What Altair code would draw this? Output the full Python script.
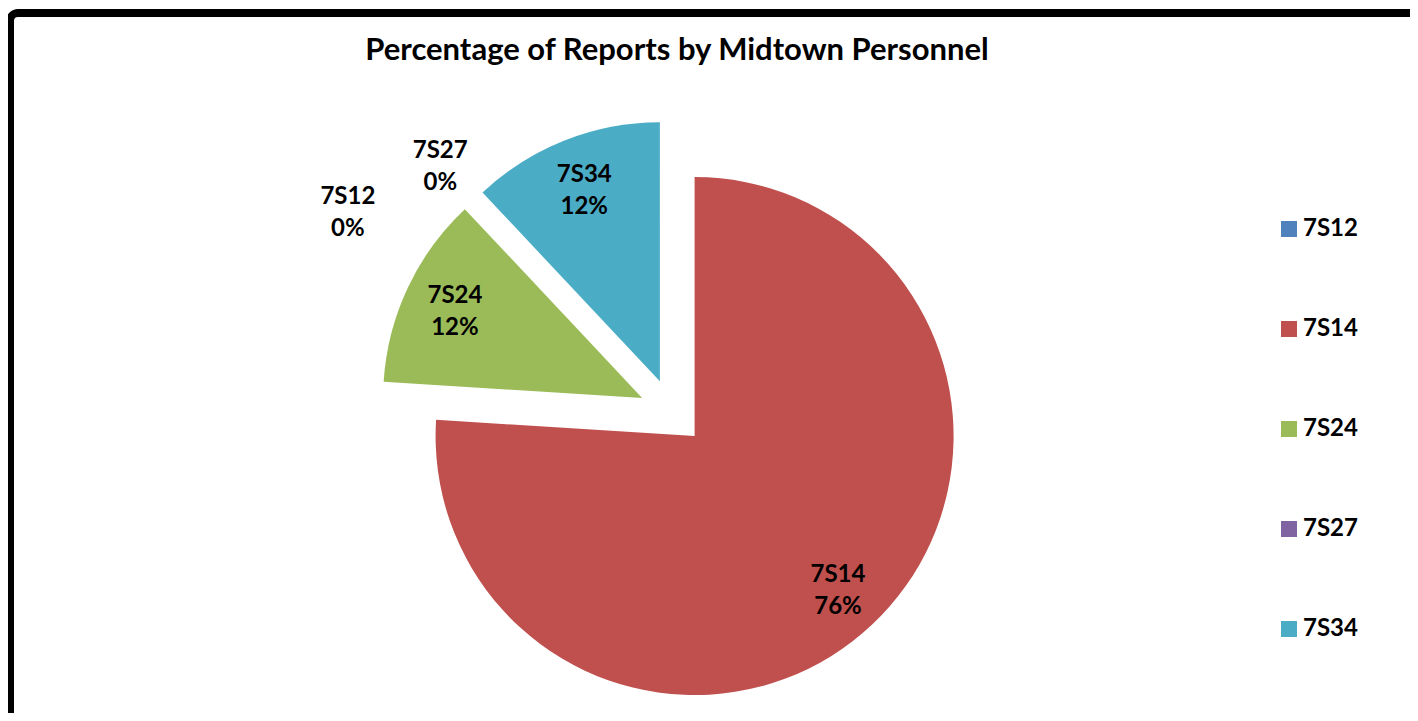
import math
import altair as alt
import pandas as pd

# ---- data -------------------------------------------------------------
names = ["7S12", "7S14", "7S24", "7S27", "7S34"]
shares = [0, 76, 12, 0, 12]
colors = ["#4F81BD", "#C0504D", "#9BBB59", "#8064A2", "#4BACC6"]
title_text = "Percentage of Reports by Midtown Personnel"

# ---- layout (chart coordinates) ---------------------------------------
W, H = 1402, 705
CX, CY = 664, 404        # pie centre
R = 259                  # pie radius
EXPLODE = 33             # every slice pulled out by this much
LABEL_R_IN = 241         # label distance for visible slices
LABEL_R_OUT = 340        # label distance for empty slices
FONT = "Lato"

df = pd.DataFrame({"name": names, "share": shares, "order": list(range(len(names)))})

base = alt.Chart(df).transform_joinaggregate(
    total="sum(share)"
).transform_window(
    cum="sum(share)", sort=[alt.SortField("order")], frame=[None, 0]
).transform_calculate(
    a0=f"(datum.cum - datum.share) / datum.total * {2 * math.pi}",
    a1=f"datum.cum / datum.total * {2 * math.pi}",
).transform_calculate(
    mid="(datum.a0 + datum.a1) / 2",
).transform_calculate(
    cx=f"{CX} + {EXPLODE} * sin(datum.mid)",
    cy=f"{CY} - {EXPLODE} * cos(datum.mid)",
    # Excel's best-fit moved the first empty label aside
    la=f"datum.order == 0 && datum.share == 0 ? {math.radians(301.9)} : datum.mid",
    lr=f"datum.share > 0 ? {LABEL_R_IN} : (datum.order == 0 ? 383 : {LABEL_R_OUT})",
    label="datum.name + '\\n' + format(datum.share / datum.total, '.0%')",
).transform_calculate(
    lx="datum.lr * sin(datum.la) + " + str(CX + 1),
    ly=str(CY) + " - datum.lr * cos(datum.la)",
)

arcs = base.mark_arc(outerRadius=R, innerRadius=0).encode(
    theta=alt.Theta("a0:Q", scale=None),
    theta2="a1:Q",
    x=alt.X("cx:Q", scale=None),
    y=alt.Y("cy:Q", scale=None),
    color=alt.Color(
        "name:N",
        scale=alt.Scale(domain=names, range=colors),
        legend=alt.Legend(
            title=None,
            orient="none",
            legendX=1269,
            legendY=209,
            symbolType="square",
            symbolSize=256,
            symbolStrokeWidth=0,
            symbolOpacity=1,
            labelFont=FONT,
            labelFontSize=24,
            labelFontWeight="bold",
            labelColor="black",
            labelOffset=2,
            rowPadding=76,
        ),
    ),
)

labels = base.mark_text(
    font=FONT, fontSize=24, fontWeight="bold", color="black",
    lineBreak="\n", lineHeight=32, align="center", baseline="middle", dy=-13,
).encode(
    x=alt.X("lx:Q", scale=None),
    y=alt.Y("ly:Q", scale=None),
    text="label:N",
)

one = alt.Data(values=[{"t": title_text}])

title = alt.Chart(one).mark_text(
    font=FONT, fontSize=31, fontWeight="bold", color="black",
    align="center", baseline="alphabetic",
).encode(x=alt.value(669), y=alt.value(52), text="t:N")

frame = alt.Chart(one).mark_rect(
    fillOpacity=0, stroke="black", strokeWidth=8, cornerRadius=8,
).encode(x=alt.value(2), y=alt.value(5), x2=alt.value(1460), y2=alt.value(780))

chart = alt.layer(frame, arcs, labels, title).properties(
    width=W, height=H, padding=0, autosize=alt.AutoSizeParams(type="none")
).configure_view(strokeWidth=0)

chart.save("out.html", embed_options={"renderer": "svg", "actions": False})
